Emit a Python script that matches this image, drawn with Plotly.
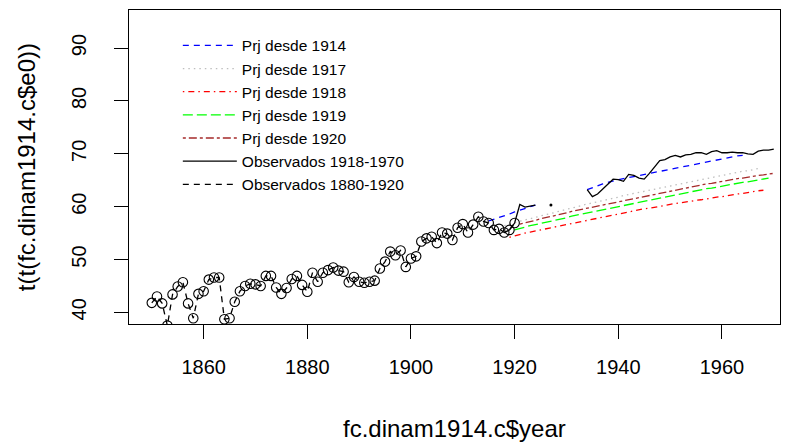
import numpy as np
import plotly.graph_objects as go

# ---------------- data ----------------
obs_old_years = list(range(1850, 1921))
obs_old_e0 = [41.8, 43.0, 41.7, 37.5, 43.4, 44.9, 45.7, 41.7, 38.9, 43.5,
              44.0, 46.2, 46.6, 46.6, 38.7, 38.9, 42.0, 44.0, 45.0, 45.4,
              45.3, 45.0, 46.9, 46.9, 44.7, 43.5, 44.6, 46.3, 46.9, 45.2,
              43.9, 47.5, 45.8, 47.5, 48.0, 48.5, 47.9, 47.7, 45.7, 46.7,
              45.8, 45.6, 45.8, 46.0, 48.3, 49.6, 51.5, 50.8, 51.7, 48.6,
              50.2, 50.6, 53.4, 54.0, 54.3, 53.1, 55.1, 54.9, 53.7, 56.0,
              56.7, 55.1, 56.6, 58.1, 57.2, 56.9, 55.6, 55.8, 55.1, 55.6,
              56.9]

obs_new_years = list(range(1918, 1971))
obs_new_e0 = [55.1, 55.6, 56.9, 60.4, 59.9, 60.1, 60.3, None, None, 60.3,
              None, None, None, None, None, None, 63.2, 61.9, 62.4, 63.4,
              64.2, 65.2, 65.1, 64.8, 66.1, 65.9, 65.4, 65.2, 66.3, 67.6,
              68.7, 68.9, 69.4, 69.7, 69.4, 69.8, 69.9, 70.2, 70.2, 69.9,
              70.4, 70.6, 70.2, 70.2, 70.3, 70.2, 70.2, 70.0, 69.9, 70.5,
              70.7, 70.7, 70.9]

prj1914_years = list(range(1915, 1965))
prj1914_e0 = [57.3, 57.6, 58.0, 58.3, 58.6, 59.0, 59.3, 59.6, 59.9, 60.3,
              None, None, None, None, None, None, None, None, None, 63.2,
              63.6, 64.0, 64.3, 64.6, 64.9, 65.1, 65.3, 65.5, 65.7, 65.9,
              66.1, 66.3, 66.5, 66.7, 66.9, 67.1, 67.3, 67.5, 67.7, 67.9,
              68.1, 68.3, 68.5, 68.6, 68.8, 69.0, 69.2, 69.4, 69.6, 69.7]

prj1917_years = list(range(1918, 1968))
prj1917_e0 = [56.4, 56.7, 57.0, 57.2, 57.5, 57.7, 58.0, 58.2, 58.5, 58.7,
              59.0, 59.2, 59.5, 59.7, 60.0, 60.2, 60.5, 60.7, 60.9, 61.2,
              61.4, 61.6, 61.8, 62.1, 62.3, 62.5, 62.7, 62.9, 63.1, 63.3,
              63.6, 63.8, 64.0, 64.2, 64.4, 64.6, 64.8, 65.0, 65.2, 65.4,
              65.6, 65.8, 65.9, 66.1, 66.3, 66.5, 66.7, 66.8, 67.0, 67.2]

prj1918_years = list(range(1919, 1969))
prj1918_e0 = [54.2, 54.5, 54.7, 55.0, 55.2, 55.4, 55.7, 55.9, 56.1, 56.3,
              56.5, 56.7, 56.9, 57.1, 57.3, 57.5, 57.7, 57.9, 58.1, 58.3,
              58.5, 58.7, 58.9, 59.0, 59.2, 59.4, 59.6, 59.7, 59.9, 60.1,
              60.2, 60.4, 60.6, 60.7, 60.9, 61.0, 61.2, 61.3, 61.5, 61.6,
              61.8, 61.9, 62.1, 62.2, 62.4, 62.5, 62.7, 62.8, 63.0, 63.1]

prj1919_years = list(range(1920, 1970))
prj1919_e0 = [55.6, 55.9, 56.1, 56.4, 56.6, 56.8, 57.1, 57.3, 57.5, 57.7,
              57.9, 58.2, 58.4, 58.6, 58.8, 59.0, 59.2, 59.5, 59.7, 59.9,
              60.1, 60.3, 60.5, 60.7, 60.9, 61.1, 61.3, 61.5, 61.7, 61.9,
              62.1, 62.3, 62.5, 62.7, 62.8, 63.0, 63.2, 63.4, 63.5, 63.7,
              63.9, 64.1, 64.2, 64.4, 64.6, 64.7, 64.9, 65.1, 65.2, 65.4]

prj1920_years = list(range(1921, 1971))
prj1920_e0 = [56.7, 56.9, 57.2, 57.4, 57.7, 57.9, 58.1, 58.4, 58.6, 58.8,
              59.1, 59.3, 59.5, 59.8, 60.0, 60.2, 60.4, 60.6, 60.8, 61.0,
              61.2, 61.4, 61.6, 61.8, 62.0, 62.2, 62.4, 62.6, 62.8, 63.0,
              63.2, 63.4, 63.6, 63.7, 63.9, 64.1, 64.3, 64.4, 64.6, 64.8,
              64.9, 65.1, 65.3, 65.4, 65.6, 65.7, 65.9, 66.0, 66.2, 66.3]

x_ticks = [1860, 1880, 1900, 1920, 1940, 1960]
y_ticks = [40, 50, 60, 70, 80, 90]
x_title = "fc.dinam1914.c$year"
y_title = "t(t(fc.dinam1914.c$e0))"

# ---------------- figure ----------------
FONT = "Liberation Sans, Arial, sans-serif"
LW = 1.3
DASH2 = "6px,5px"

def nan(v):
    return [np.nan if a is None else a for a in v]

fig = go.Figure()

prj = [
    ("Prj desde 1914", prj1914_years, prj1914_e0, "blue", DASH2),
    ("Prj desde 1917", prj1917_years, prj1917_e0, "#BEBEBE", "1.5px,4px"),
    ("Prj desde 1918", prj1918_years, prj1918_e0, "red", "1.5px,4px,6px,4px"),
    ("Prj desde 1919", prj1919_years, prj1919_e0, "#00FF00", "10px,4px"),
    ("Prj desde 1920", prj1920_years, prj1920_e0, "#A52A2A", "3px,3px,8px,3px"),
]
for name, xs, ys, col, dash in prj:
    fig.add_trace(go.Scatter(x=xs, y=nan(ys), mode="lines", name=name,
                             line=dict(color=col, width=LW, dash=dash),
                             connectgaps=False))

fig.add_trace(go.Scatter(x=obs_new_years, y=nan(obs_new_e0), mode="lines",
                         name="Observados 1918-1970",
                         line=dict(color="black", width=LW), connectgaps=False))

# isolated observed values (between missing years) shown as a dot
iso_x, iso_y = [], []
for i, v in enumerate(obs_new_e0):
    prev_missing = i == 0 or obs_new_e0[i - 1] is None
    next_missing = i == len(obs_new_e0) - 1 or obs_new_e0[i + 1] is None
    if v is not None and prev_missing and next_missing:
        iso_x.append(obs_new_years[i])
        iso_y.append(v)
fig.add_trace(go.Scatter(x=iso_x, y=iso_y, mode="markers", showlegend=False,
                         marker=dict(color="black", size=3)))

# older observations: dashed connecting line (legend) + open circles
fig.add_trace(go.Scatter(x=obs_old_years, y=obs_old_e0, mode="lines",
                         name="Observados 1880-1920", legendgroup="old",
                         line=dict(color="black", width=LW, dash=DASH2)))
fig.add_trace(go.Scatter(x=obs_old_years, y=obs_old_e0, mode="markers",
                         showlegend=False, legendgroup="old",
                         marker=dict(symbol="circle-open", size=9.5, color="black",
                                     line=dict(width=1.1, color="black"))))

axis_common = dict(showline=True, linecolor="black", linewidth=1, mirror=True,
                   ticks="outside", ticklen=14, tickwidth=1, tickcolor="black",
                   showgrid=False, zeroline=False,
                   tickfont=dict(family=FONT, size=20, color="black"))

fig.update_layout(
    width=788, height=448, autosize=False,
    margin=dict(l=129, r=8, t=10, b=124),
    paper_bgcolor="white", plot_bgcolor="white",
    font=dict(family=FONT, color="black"),
    xaxis=dict(range=[1845.6, 1971.2], tickvals=x_ticks, ticklabelstandoff=11,
               **axis_common),
    yaxis=dict(range=[37.8, 97.2], tickvals=y_ticks, tickangle=-90,
               ticklabelstandoff=20, **axis_common),
    legend=dict(x=0.075, y=0.94, xanchor="left", yanchor="top",
                bgcolor="rgba(0,0,0,0)", borderwidth=0,
                font=dict(family=FONT, size=15.5, color="black"),
                itemwidth=54, tracegroupgap=0),
    showlegend=True,
    annotations=[
        dict(text=x_title, xref="paper", yref="paper", x=0.5, y=-0.333,
             xanchor="center", yanchor="middle", showarrow=False,
             font=dict(family=FONT, size=24, color="black")),
        dict(text=y_title, xref="paper", yref="paper", x=-0.158, y=0.5,
             xanchor="center", yanchor="middle", showarrow=False, textangle=-90,
             font=dict(family=FONT, size=24, color="black")),
    ],
)

fig.write_html("out.html")
